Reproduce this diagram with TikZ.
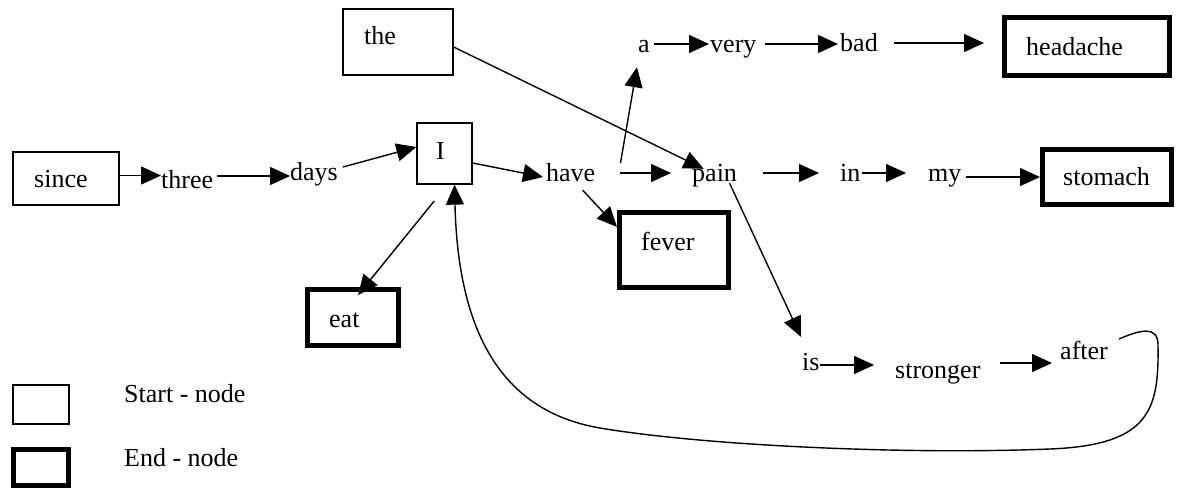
\documentclass[tikz,border=0pt]{standalone}
\usepackage{fontspec}
\setmainfont{Liberation Serif}
\usetikzlibrary{arrows.meta}
\begin{document}
\begin{tikzpicture}[x=1pt,y=-1pt,
  font=\fontsize{26}{30}\selectfont,
  word/.style={inner sep=0pt, anchor=base west, text height=16pt, text depth=0pt},
  sbox/.style={draw, line width=1.3pt, inner sep=0pt},
  ebox/.style={draw, line width=5pt, inner sep=0pt},
  arr/.style={-{Triangle[length=20pt,width=18pt]}, line width=1.4pt},
  curv/.style={line width=1.3pt}]
\useasboundingbox (0,0) rectangle (1184,490);
% boxes
\node[sbox, minimum width=110pt, minimum height=66pt] (theBox) at (398,42) {};
\node[sbox, minimum width=106pt, minimum height=53pt] (sinceBox) at (66,178.5) {};
\node[sbox, minimum width=55pt, minimum height=61pt] (IBox) at (444.5,153.5) {};
\node[ebox, minimum width=165pt, minimum height=58pt] (headBox) at (1087,46.5) {};
\node[ebox, minimum width=129pt, minimum height=55pt] (stomBox) at (1107,177) {};
\node[ebox, minimum width=109pt, minimum height=75pt] (feverBox) at (674,250) {};
\node[ebox, minimum width=91pt, minimum height=56pt] (eatBox) at (353,317.5) {};
\node[sbox, minimum width=56pt, minimum height=39pt] (startLeg) at (41,404.5) {};
\node[ebox, minimum width=55pt, minimum height=36pt] (endLeg) at (41,467.5) {};
% words
\node[word] (since) at (34,187) {since};
\node[word] (three) at (161,188) {three};
\node[word] (days) at (290,180) {days};
\node[word] (I) at (436,159) {I};
\node[word] (have) at (546,181) {have};
\node[word] (the) at (364,44) {the};
\node[word] (a) at (638,52) {a};
\node[word] (very) at (710,52) {very};
\node[word] (bad) at (840,51) {bad};
\node[word] (headache) at (1026,55) {headache};
\node[word] (pain) at (692,181) {pain};
\node[word] (in) at (840,181) {in};
\node[word] (my) at (928,181) {my};
\node[word] (stomach) at (1063,185) {stomach};
\node[word] (fever) at (641,250) {fever};
\node[word] (eat) at (329,327) {eat};
\node[word] (is) at (802,370) {is};
\node[word] (stronger) at (895,378) {stronger};
\node[word] (after) at (1060,359) {after};
\node[word] (startTxt) at (124,402) {Start - node};
\node[word] (endTxt) at (124,466) {End - node};
% connectors
\draw[arr] ([yshift=3pt]sinceBox.east) -- ([yshift=3pt]sinceBox.east -| three.west);
\draw[arr] ([xshift=4pt,yshift=4pt]three.east) -- ([yshift=4pt]three.east -| days.west);
\draw[arr] ([xshift=5pt,yshift=5pt]days.east) -- ([yshift=6.5pt]IBox.west);
\draw[arr] ([yshift=-9.5pt]IBox.east) -- ([xshift=-3pt,yshift=-4pt]have.west);
\draw[arr, shorten <=21pt] ([xshift=3pt]IBox.south) -- ([xshift=5pt,yshift=-8pt]eatBox.north);
\draw[arr] ([xshift=25pt,yshift=10pt]have.east) -- ([xshift=-7pt,yshift=-15pt]a.south);
\draw[arr] ([xshift=25pt]have.east) -- ([xshift=-21pt]have.east -| pain.west);
\draw[arr] ([xshift=12pt,yshift=-9pt]have.south) -- ([yshift=-17pt]feverBox.north west);
\draw[arr] ([yshift=-5pt]theBox.east) -- ([xshift=-11pt,yshift=-4pt]pain.north);
\draw[arr] ([xshift=4pt]a.east) -- ([xshift=-1pt]a.east -| very.west);
\draw[arr] ([xshift=8pt]very.east) -- ([xshift=-2pt]very.east -| bad.west);
\draw[arr] ([xshift=16pt]bad.east) -- ([xshift=-18pt]bad.east -| headBox.west);
\draw[arr] ([xshift=26pt]pain.east) -- ([xshift=-21pt]pain.east -| in.west);
\draw[arr] ([xshift=1pt]in.east) -- ([xshift=-22pt]in.east -| my.west);
\draw[arr] ([xshift=4pt,yshift=-4pt]my.east) -- ([yshift=-4pt]my.east -| stomBox.west);
\draw[arr] ([xshift=15pt,yshift=-2pt]pain.south) -- ([xshift=-10pt,yshift=17pt]is.north);
\draw[arr] ([yshift=-3pt]is.east) -- ([xshift=-21pt,yshift=-3pt]is.east -| stronger.west);
\draw[arr] ([xshift=19pt,yshift=7pt]stronger.east) -- ([xshift=-8pt,yshift=7pt]stronger.east -| after.west);
\draw[arr] ([xshift=11pt,yshift=12pt]after.east)
   .. controls (1140,330) and (1158,325) .. (1158,345)
   .. controls (1159,410) and (1150,445) .. (1050,449)
   .. controls (900,455) and (700,445) .. (600,428)
   .. controls (500,411) and (458,330) .. ([xshift=10pt]IBox.south);
\end{tikzpicture}
\end{document}
